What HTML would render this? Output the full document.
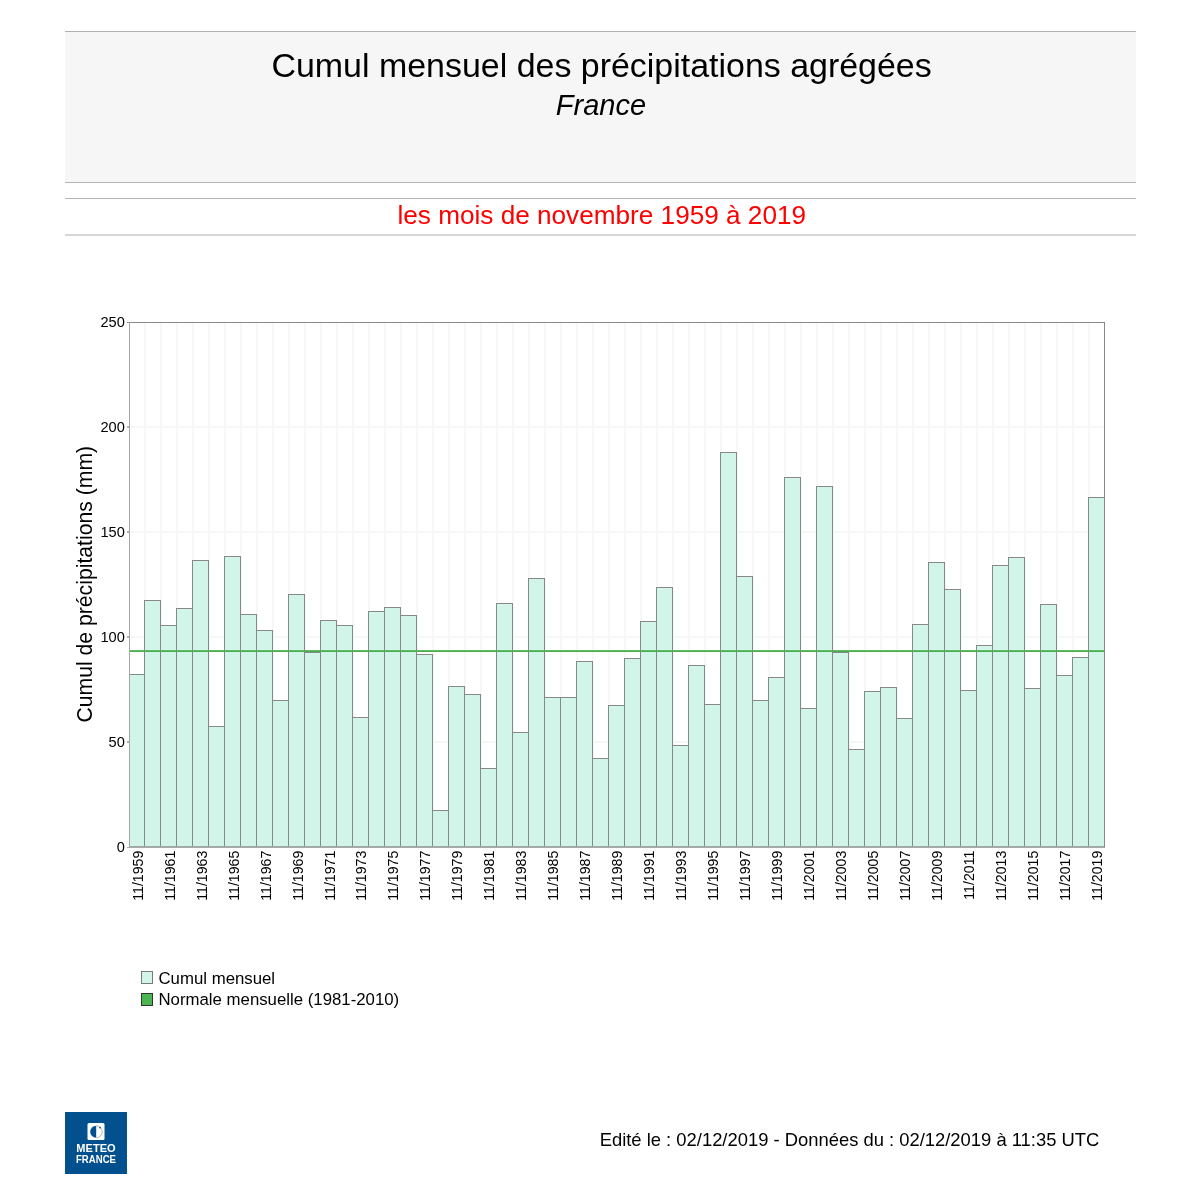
<!DOCTYPE html>
<html><head><meta charset="utf-8"><style>
html,body{margin:0;padding:0;background:#fff;}
body{width:1200px;height:1200px;overflow:hidden;position:relative;font-family:"Liberation Sans", sans-serif;}
svg{position:absolute;left:0;top:0;will-change:transform;}
svg text{font-family:"Liberation Sans", sans-serif;}
</style></head><body>
<svg width="1200" height="1200" viewBox="0 0 1200 1200">
<rect x="0" y="0" width="1200" height="1200" fill="#fff"/>
<g shape-rendering="crispEdges">
<rect x="65" y="31" width="1071" height="151" fill="#f6f6f6"/>
<rect x="65" y="31" width="1071" height="1" fill="#b0b0b0"/>
<rect x="65" y="182" width="1071" height="1" fill="#b4b4b4"/>
<rect x="65" y="198" width="1071" height="1" fill="#b4b4b4"/>
<rect x="65" y="234" width="1071" height="2" fill="#d6d6d6"/>
</g>
<text x="601.6" y="77.3" font-size="33.95" text-anchor="middle" fill="#000">Cumul mensuel des précipitations agrégées</text>
<text x="601.0" y="115.0" font-size="29" font-style="italic" text-anchor="middle" fill="#000">France</text>
<text x="601.75" y="224.3" font-size="26.16" text-anchor="middle" fill="#ff0000">les mois de novembre 1959 à 2019</text>
<g shape-rendering="crispEdges">
<rect x="129" y="741" width="975.03" height="2" fill="#f7f7f7"/>
<rect x="129" y="636" width="975.03" height="2" fill="#f7f7f7"/>
<rect x="129" y="531" width="975.03" height="2" fill="#f7f7f7"/>
<rect x="129" y="426" width="975.03" height="2" fill="#f7f7f7"/>
<rect x="144" y="322" width="2" height="525" fill="#f7f7f7"/>
<rect x="160" y="322" width="2" height="525" fill="#f7f7f7"/>
<rect x="176" y="322" width="2" height="525" fill="#f7f7f7"/>
<rect x="192" y="322" width="2" height="525" fill="#f7f7f7"/>
<rect x="208" y="322" width="2" height="525" fill="#f7f7f7"/>
<rect x="224" y="322" width="2" height="525" fill="#f7f7f7"/>
<rect x="240" y="322" width="2" height="525" fill="#f7f7f7"/>
<rect x="256" y="322" width="2" height="525" fill="#f7f7f7"/>
<rect x="272" y="322" width="2" height="525" fill="#f7f7f7"/>
<rect x="288" y="322" width="2" height="525" fill="#f7f7f7"/>
<rect x="304" y="322" width="2" height="525" fill="#f7f7f7"/>
<rect x="320" y="322" width="2" height="525" fill="#f7f7f7"/>
<rect x="336" y="322" width="2" height="525" fill="#f7f7f7"/>
<rect x="352" y="322" width="2" height="525" fill="#f7f7f7"/>
<rect x="368" y="322" width="2" height="525" fill="#f7f7f7"/>
<rect x="384" y="322" width="2" height="525" fill="#f7f7f7"/>
<rect x="400" y="322" width="2" height="525" fill="#f7f7f7"/>
<rect x="416" y="322" width="2" height="525" fill="#f7f7f7"/>
<rect x="432" y="322" width="2" height="525" fill="#f7f7f7"/>
<rect x="448" y="322" width="2" height="525" fill="#f7f7f7"/>
<rect x="464" y="322" width="2" height="525" fill="#f7f7f7"/>
<rect x="480" y="322" width="2" height="525" fill="#f7f7f7"/>
<rect x="496" y="322" width="2" height="525" fill="#f7f7f7"/>
<rect x="512" y="322" width="2" height="525" fill="#f7f7f7"/>
<rect x="528" y="322" width="2" height="525" fill="#f7f7f7"/>
<rect x="544" y="322" width="2" height="525" fill="#f7f7f7"/>
<rect x="560" y="322" width="2" height="525" fill="#f7f7f7"/>
<rect x="576" y="322" width="2" height="525" fill="#f7f7f7"/>
<rect x="592" y="322" width="2" height="525" fill="#f7f7f7"/>
<rect x="608" y="322" width="2" height="525" fill="#f7f7f7"/>
<rect x="624" y="322" width="2" height="525" fill="#f7f7f7"/>
<rect x="640" y="322" width="2" height="525" fill="#f7f7f7"/>
<rect x="656" y="322" width="2" height="525" fill="#f7f7f7"/>
<rect x="672" y="322" width="2" height="525" fill="#f7f7f7"/>
<rect x="688" y="322" width="2" height="525" fill="#f7f7f7"/>
<rect x="704" y="322" width="2" height="525" fill="#f7f7f7"/>
<rect x="720" y="322" width="2" height="525" fill="#f7f7f7"/>
<rect x="736" y="322" width="2" height="525" fill="#f7f7f7"/>
<rect x="752" y="322" width="2" height="525" fill="#f7f7f7"/>
<rect x="768" y="322" width="2" height="525" fill="#f7f7f7"/>
<rect x="784" y="322" width="2" height="525" fill="#f7f7f7"/>
<rect x="800" y="322" width="2" height="525" fill="#f7f7f7"/>
<rect x="816" y="322" width="2" height="525" fill="#f7f7f7"/>
<rect x="832" y="322" width="2" height="525" fill="#f7f7f7"/>
<rect x="848" y="322" width="2" height="525" fill="#f7f7f7"/>
<rect x="864" y="322" width="2" height="525" fill="#f7f7f7"/>
<rect x="880" y="322" width="2" height="525" fill="#f7f7f7"/>
<rect x="896" y="322" width="2" height="525" fill="#f7f7f7"/>
<rect x="912" y="322" width="2" height="525" fill="#f7f7f7"/>
<rect x="928" y="322" width="2" height="525" fill="#f7f7f7"/>
<rect x="944" y="322" width="2" height="525" fill="#f7f7f7"/>
<rect x="960" y="322" width="2" height="525" fill="#f7f7f7"/>
<rect x="976" y="322" width="2" height="525" fill="#f7f7f7"/>
<rect x="992" y="322" width="2" height="525" fill="#f7f7f7"/>
<rect x="1008" y="322" width="2" height="525" fill="#f7f7f7"/>
<rect x="1024" y="322" width="2" height="525" fill="#f7f7f7"/>
<rect x="1040" y="322" width="2" height="525" fill="#f7f7f7"/>
<rect x="1056" y="322" width="2" height="525" fill="#f7f7f7"/>
<rect x="1072" y="322" width="2" height="525" fill="#f7f7f7"/>
<rect x="1088" y="322" width="2" height="525" fill="#f7f7f7"/>
<rect x="129" y="674" width="15" height="173" fill="#d2f5ea"/>
<rect x="144" y="600" width="16" height="247" fill="#d2f5ea"/>
<rect x="160" y="625" width="16" height="222" fill="#d2f5ea"/>
<rect x="176" y="608" width="16" height="239" fill="#d2f5ea"/>
<rect x="192" y="560" width="16" height="287" fill="#d2f5ea"/>
<rect x="208" y="726" width="16" height="121" fill="#d2f5ea"/>
<rect x="224" y="556" width="16" height="291" fill="#d2f5ea"/>
<rect x="240" y="614" width="16" height="233" fill="#d2f5ea"/>
<rect x="256" y="630" width="16" height="217" fill="#d2f5ea"/>
<rect x="272" y="700" width="16" height="147" fill="#d2f5ea"/>
<rect x="288" y="594" width="16" height="253" fill="#d2f5ea"/>
<rect x="304" y="652" width="16" height="195" fill="#d2f5ea"/>
<rect x="320" y="620" width="16" height="227" fill="#d2f5ea"/>
<rect x="336" y="625" width="16" height="222" fill="#d2f5ea"/>
<rect x="352" y="717" width="16" height="130" fill="#d2f5ea"/>
<rect x="368" y="611" width="16" height="236" fill="#d2f5ea"/>
<rect x="384" y="607" width="16" height="240" fill="#d2f5ea"/>
<rect x="400" y="615" width="16" height="232" fill="#d2f5ea"/>
<rect x="416" y="654" width="16" height="193" fill="#d2f5ea"/>
<rect x="432" y="810" width="16" height="37" fill="#d2f5ea"/>
<rect x="448" y="686" width="16" height="161" fill="#d2f5ea"/>
<rect x="464" y="694" width="16" height="153" fill="#d2f5ea"/>
<rect x="480" y="768" width="16" height="79" fill="#d2f5ea"/>
<rect x="496" y="603" width="16" height="244" fill="#d2f5ea"/>
<rect x="512" y="732" width="16" height="115" fill="#d2f5ea"/>
<rect x="528" y="578" width="16" height="269" fill="#d2f5ea"/>
<rect x="544" y="697" width="16" height="150" fill="#d2f5ea"/>
<rect x="560" y="697" width="16" height="150" fill="#d2f5ea"/>
<rect x="576" y="661" width="16" height="186" fill="#d2f5ea"/>
<rect x="592" y="758" width="16" height="89" fill="#d2f5ea"/>
<rect x="608" y="705" width="16" height="142" fill="#d2f5ea"/>
<rect x="624" y="658" width="16" height="189" fill="#d2f5ea"/>
<rect x="640" y="621" width="16" height="226" fill="#d2f5ea"/>
<rect x="656" y="587" width="16" height="260" fill="#d2f5ea"/>
<rect x="672" y="745" width="16" height="102" fill="#d2f5ea"/>
<rect x="688" y="665" width="16" height="182" fill="#d2f5ea"/>
<rect x="704" y="704" width="16" height="143" fill="#d2f5ea"/>
<rect x="720" y="452" width="16" height="395" fill="#d2f5ea"/>
<rect x="736" y="576" width="16" height="271" fill="#d2f5ea"/>
<rect x="752" y="700" width="16" height="147" fill="#d2f5ea"/>
<rect x="768" y="677" width="16" height="170" fill="#d2f5ea"/>
<rect x="784" y="477" width="16" height="370" fill="#d2f5ea"/>
<rect x="800" y="708" width="16" height="139" fill="#d2f5ea"/>
<rect x="816" y="486" width="16" height="361" fill="#d2f5ea"/>
<rect x="832" y="652" width="16" height="195" fill="#d2f5ea"/>
<rect x="848" y="749" width="16" height="98" fill="#d2f5ea"/>
<rect x="864" y="691" width="16" height="156" fill="#d2f5ea"/>
<rect x="880" y="687" width="16" height="160" fill="#d2f5ea"/>
<rect x="896" y="718" width="16" height="129" fill="#d2f5ea"/>
<rect x="912" y="624" width="16" height="223" fill="#d2f5ea"/>
<rect x="928" y="562" width="16" height="285" fill="#d2f5ea"/>
<rect x="944" y="589" width="16" height="258" fill="#d2f5ea"/>
<rect x="960" y="690" width="16" height="157" fill="#d2f5ea"/>
<rect x="976" y="645" width="16" height="202" fill="#d2f5ea"/>
<rect x="992" y="565" width="16" height="282" fill="#d2f5ea"/>
<rect x="1008" y="557" width="16" height="290" fill="#d2f5ea"/>
<rect x="1024" y="688" width="16" height="159" fill="#d2f5ea"/>
<rect x="1040" y="604" width="16" height="243" fill="#d2f5ea"/>
<rect x="1056" y="675" width="16" height="172" fill="#d2f5ea"/>
<rect x="1072" y="657" width="16" height="190" fill="#d2f5ea"/>
<rect x="1088" y="497" width="16" height="350" fill="#d2f5ea"/>
<rect x="129" y="650" width="975.03" height="1" fill="#62bc66"/>
<rect x="129" y="651" width="975.03" height="1" fill="#45b04a"/>
<rect x="129" y="674" width="1" height="173" fill="#7f8d8a"/>
<rect x="144" y="674" width="1" height="173" fill="#7f8d8a"/>
<rect x="129" y="674" width="16" height="1" fill="#888888"/>
<rect x="144" y="600" width="1" height="247" fill="#7f8d8a"/>
<rect x="160" y="600" width="1" height="247" fill="#7f8d8a"/>
<rect x="144" y="600" width="17" height="1" fill="#888888"/>
<rect x="160" y="625" width="1" height="222" fill="#7f8d8a"/>
<rect x="176" y="625" width="1" height="222" fill="#7f8d8a"/>
<rect x="160" y="625" width="17" height="1" fill="#888888"/>
<rect x="176" y="608" width="1" height="239" fill="#7f8d8a"/>
<rect x="192" y="608" width="1" height="239" fill="#7f8d8a"/>
<rect x="176" y="608" width="17" height="1" fill="#888888"/>
<rect x="192" y="560" width="1" height="287" fill="#7f8d8a"/>
<rect x="208" y="560" width="1" height="287" fill="#7f8d8a"/>
<rect x="192" y="560" width="17" height="1" fill="#888888"/>
<rect x="208" y="726" width="1" height="121" fill="#7f8d8a"/>
<rect x="224" y="726" width="1" height="121" fill="#7f8d8a"/>
<rect x="208" y="726" width="17" height="1" fill="#888888"/>
<rect x="224" y="556" width="1" height="291" fill="#7f8d8a"/>
<rect x="240" y="556" width="1" height="291" fill="#7f8d8a"/>
<rect x="224" y="556" width="17" height="1" fill="#888888"/>
<rect x="240" y="614" width="1" height="233" fill="#7f8d8a"/>
<rect x="256" y="614" width="1" height="233" fill="#7f8d8a"/>
<rect x="240" y="614" width="17" height="1" fill="#888888"/>
<rect x="256" y="630" width="1" height="217" fill="#7f8d8a"/>
<rect x="272" y="630" width="1" height="217" fill="#7f8d8a"/>
<rect x="256" y="630" width="17" height="1" fill="#888888"/>
<rect x="272" y="700" width="1" height="147" fill="#7f8d8a"/>
<rect x="288" y="700" width="1" height="147" fill="#7f8d8a"/>
<rect x="272" y="700" width="17" height="1" fill="#888888"/>
<rect x="288" y="594" width="1" height="253" fill="#7f8d8a"/>
<rect x="304" y="594" width="1" height="253" fill="#7f8d8a"/>
<rect x="288" y="594" width="17" height="1" fill="#888888"/>
<rect x="304" y="652" width="1" height="195" fill="#7f8d8a"/>
<rect x="320" y="652" width="1" height="195" fill="#7f8d8a"/>
<rect x="304" y="652" width="17" height="1" fill="#888888"/>
<rect x="320" y="620" width="1" height="227" fill="#7f8d8a"/>
<rect x="336" y="620" width="1" height="227" fill="#7f8d8a"/>
<rect x="320" y="620" width="17" height="1" fill="#888888"/>
<rect x="336" y="625" width="1" height="222" fill="#7f8d8a"/>
<rect x="352" y="625" width="1" height="222" fill="#7f8d8a"/>
<rect x="336" y="625" width="17" height="1" fill="#888888"/>
<rect x="352" y="717" width="1" height="130" fill="#7f8d8a"/>
<rect x="368" y="717" width="1" height="130" fill="#7f8d8a"/>
<rect x="352" y="717" width="17" height="1" fill="#888888"/>
<rect x="368" y="611" width="1" height="236" fill="#7f8d8a"/>
<rect x="384" y="611" width="1" height="236" fill="#7f8d8a"/>
<rect x="368" y="611" width="17" height="1" fill="#888888"/>
<rect x="384" y="607" width="1" height="240" fill="#7f8d8a"/>
<rect x="400" y="607" width="1" height="240" fill="#7f8d8a"/>
<rect x="384" y="607" width="17" height="1" fill="#888888"/>
<rect x="400" y="615" width="1" height="232" fill="#7f8d8a"/>
<rect x="416" y="615" width="1" height="232" fill="#7f8d8a"/>
<rect x="400" y="615" width="17" height="1" fill="#888888"/>
<rect x="416" y="654" width="1" height="193" fill="#7f8d8a"/>
<rect x="432" y="654" width="1" height="193" fill="#7f8d8a"/>
<rect x="416" y="654" width="17" height="1" fill="#888888"/>
<rect x="432" y="810" width="1" height="37" fill="#7f8d8a"/>
<rect x="448" y="810" width="1" height="37" fill="#7f8d8a"/>
<rect x="432" y="810" width="17" height="1" fill="#888888"/>
<rect x="448" y="686" width="1" height="161" fill="#7f8d8a"/>
<rect x="464" y="686" width="1" height="161" fill="#7f8d8a"/>
<rect x="448" y="686" width="17" height="1" fill="#888888"/>
<rect x="464" y="694" width="1" height="153" fill="#7f8d8a"/>
<rect x="480" y="694" width="1" height="153" fill="#7f8d8a"/>
<rect x="464" y="694" width="17" height="1" fill="#888888"/>
<rect x="480" y="768" width="1" height="79" fill="#7f8d8a"/>
<rect x="496" y="768" width="1" height="79" fill="#7f8d8a"/>
<rect x="480" y="768" width="17" height="1" fill="#888888"/>
<rect x="496" y="603" width="1" height="244" fill="#7f8d8a"/>
<rect x="512" y="603" width="1" height="244" fill="#7f8d8a"/>
<rect x="496" y="603" width="17" height="1" fill="#888888"/>
<rect x="512" y="732" width="1" height="115" fill="#7f8d8a"/>
<rect x="528" y="732" width="1" height="115" fill="#7f8d8a"/>
<rect x="512" y="732" width="17" height="1" fill="#888888"/>
<rect x="528" y="578" width="1" height="269" fill="#7f8d8a"/>
<rect x="544" y="578" width="1" height="269" fill="#7f8d8a"/>
<rect x="528" y="578" width="17" height="1" fill="#888888"/>
<rect x="544" y="697" width="1" height="150" fill="#7f8d8a"/>
<rect x="560" y="697" width="1" height="150" fill="#7f8d8a"/>
<rect x="544" y="697" width="17" height="1" fill="#888888"/>
<rect x="560" y="697" width="1" height="150" fill="#7f8d8a"/>
<rect x="576" y="697" width="1" height="150" fill="#7f8d8a"/>
<rect x="560" y="697" width="17" height="1" fill="#888888"/>
<rect x="576" y="661" width="1" height="186" fill="#7f8d8a"/>
<rect x="592" y="661" width="1" height="186" fill="#7f8d8a"/>
<rect x="576" y="661" width="17" height="1" fill="#888888"/>
<rect x="592" y="758" width="1" height="89" fill="#7f8d8a"/>
<rect x="608" y="758" width="1" height="89" fill="#7f8d8a"/>
<rect x="592" y="758" width="17" height="1" fill="#888888"/>
<rect x="608" y="705" width="1" height="142" fill="#7f8d8a"/>
<rect x="624" y="705" width="1" height="142" fill="#7f8d8a"/>
<rect x="608" y="705" width="17" height="1" fill="#888888"/>
<rect x="624" y="658" width="1" height="189" fill="#7f8d8a"/>
<rect x="640" y="658" width="1" height="189" fill="#7f8d8a"/>
<rect x="624" y="658" width="17" height="1" fill="#888888"/>
<rect x="640" y="621" width="1" height="226" fill="#7f8d8a"/>
<rect x="656" y="621" width="1" height="226" fill="#7f8d8a"/>
<rect x="640" y="621" width="17" height="1" fill="#888888"/>
<rect x="656" y="587" width="1" height="260" fill="#7f8d8a"/>
<rect x="672" y="587" width="1" height="260" fill="#7f8d8a"/>
<rect x="656" y="587" width="17" height="1" fill="#888888"/>
<rect x="672" y="745" width="1" height="102" fill="#7f8d8a"/>
<rect x="688" y="745" width="1" height="102" fill="#7f8d8a"/>
<rect x="672" y="745" width="17" height="1" fill="#888888"/>
<rect x="688" y="665" width="1" height="182" fill="#7f8d8a"/>
<rect x="704" y="665" width="1" height="182" fill="#7f8d8a"/>
<rect x="688" y="665" width="17" height="1" fill="#888888"/>
<rect x="704" y="704" width="1" height="143" fill="#7f8d8a"/>
<rect x="720" y="704" width="1" height="143" fill="#7f8d8a"/>
<rect x="704" y="704" width="17" height="1" fill="#888888"/>
<rect x="720" y="452" width="1" height="395" fill="#7f8d8a"/>
<rect x="736" y="452" width="1" height="395" fill="#7f8d8a"/>
<rect x="720" y="452" width="17" height="1" fill="#888888"/>
<rect x="736" y="576" width="1" height="271" fill="#7f8d8a"/>
<rect x="752" y="576" width="1" height="271" fill="#7f8d8a"/>
<rect x="736" y="576" width="17" height="1" fill="#888888"/>
<rect x="752" y="700" width="1" height="147" fill="#7f8d8a"/>
<rect x="768" y="700" width="1" height="147" fill="#7f8d8a"/>
<rect x="752" y="700" width="17" height="1" fill="#888888"/>
<rect x="768" y="677" width="1" height="170" fill="#7f8d8a"/>
<rect x="784" y="677" width="1" height="170" fill="#7f8d8a"/>
<rect x="768" y="677" width="17" height="1" fill="#888888"/>
<rect x="784" y="477" width="1" height="370" fill="#7f8d8a"/>
<rect x="800" y="477" width="1" height="370" fill="#7f8d8a"/>
<rect x="784" y="477" width="17" height="1" fill="#888888"/>
<rect x="800" y="708" width="1" height="139" fill="#7f8d8a"/>
<rect x="816" y="708" width="1" height="139" fill="#7f8d8a"/>
<rect x="800" y="708" width="17" height="1" fill="#888888"/>
<rect x="816" y="486" width="1" height="361" fill="#7f8d8a"/>
<rect x="832" y="486" width="1" height="361" fill="#7f8d8a"/>
<rect x="816" y="486" width="17" height="1" fill="#888888"/>
<rect x="832" y="652" width="1" height="195" fill="#7f8d8a"/>
<rect x="848" y="652" width="1" height="195" fill="#7f8d8a"/>
<rect x="832" y="652" width="17" height="1" fill="#888888"/>
<rect x="848" y="749" width="1" height="98" fill="#7f8d8a"/>
<rect x="864" y="749" width="1" height="98" fill="#7f8d8a"/>
<rect x="848" y="749" width="17" height="1" fill="#888888"/>
<rect x="864" y="691" width="1" height="156" fill="#7f8d8a"/>
<rect x="880" y="691" width="1" height="156" fill="#7f8d8a"/>
<rect x="864" y="691" width="17" height="1" fill="#888888"/>
<rect x="880" y="687" width="1" height="160" fill="#7f8d8a"/>
<rect x="896" y="687" width="1" height="160" fill="#7f8d8a"/>
<rect x="880" y="687" width="17" height="1" fill="#888888"/>
<rect x="896" y="718" width="1" height="129" fill="#7f8d8a"/>
<rect x="912" y="718" width="1" height="129" fill="#7f8d8a"/>
<rect x="896" y="718" width="17" height="1" fill="#888888"/>
<rect x="912" y="624" width="1" height="223" fill="#7f8d8a"/>
<rect x="928" y="624" width="1" height="223" fill="#7f8d8a"/>
<rect x="912" y="624" width="17" height="1" fill="#888888"/>
<rect x="928" y="562" width="1" height="285" fill="#7f8d8a"/>
<rect x="944" y="562" width="1" height="285" fill="#7f8d8a"/>
<rect x="928" y="562" width="17" height="1" fill="#888888"/>
<rect x="944" y="589" width="1" height="258" fill="#7f8d8a"/>
<rect x="960" y="589" width="1" height="258" fill="#7f8d8a"/>
<rect x="944" y="589" width="17" height="1" fill="#888888"/>
<rect x="960" y="690" width="1" height="157" fill="#7f8d8a"/>
<rect x="976" y="690" width="1" height="157" fill="#7f8d8a"/>
<rect x="960" y="690" width="17" height="1" fill="#888888"/>
<rect x="976" y="645" width="1" height="202" fill="#7f8d8a"/>
<rect x="992" y="645" width="1" height="202" fill="#7f8d8a"/>
<rect x="976" y="645" width="17" height="1" fill="#888888"/>
<rect x="992" y="565" width="1" height="282" fill="#7f8d8a"/>
<rect x="1008" y="565" width="1" height="282" fill="#7f8d8a"/>
<rect x="992" y="565" width="17" height="1" fill="#888888"/>
<rect x="1008" y="557" width="1" height="290" fill="#7f8d8a"/>
<rect x="1024" y="557" width="1" height="290" fill="#7f8d8a"/>
<rect x="1008" y="557" width="17" height="1" fill="#888888"/>
<rect x="1024" y="688" width="1" height="159" fill="#7f8d8a"/>
<rect x="1040" y="688" width="1" height="159" fill="#7f8d8a"/>
<rect x="1024" y="688" width="17" height="1" fill="#888888"/>
<rect x="1040" y="604" width="1" height="243" fill="#7f8d8a"/>
<rect x="1056" y="604" width="1" height="243" fill="#7f8d8a"/>
<rect x="1040" y="604" width="17" height="1" fill="#888888"/>
<rect x="1056" y="675" width="1" height="172" fill="#7f8d8a"/>
<rect x="1072" y="675" width="1" height="172" fill="#7f8d8a"/>
<rect x="1056" y="675" width="17" height="1" fill="#888888"/>
<rect x="1072" y="657" width="1" height="190" fill="#7f8d8a"/>
<rect x="1088" y="657" width="1" height="190" fill="#7f8d8a"/>
<rect x="1072" y="657" width="17" height="1" fill="#888888"/>
<rect x="1088" y="497" width="1" height="350" fill="#7f8d8a"/>
<rect x="1104" y="497" width="1" height="350" fill="#7f8d8a"/>
<rect x="1088" y="497" width="17" height="1" fill="#888888"/>
<rect x="129" y="846" width="975.03" height="1" fill="#9aaaa5"/>
<rect x="127" y="322" width="978.03" height="1" fill="#888888"/>
<rect x="129" y="322" width="1" height="525" fill="#9fa7a4"/>
<rect x="1104" y="322" width="1" height="525" fill="#888888"/>
<rect x="127" y="847" width="978" height="1" fill="#a9a9a9"/>
<rect x="127" y="741" width="2" height="2" fill="#b0b0b0"/>
<rect x="127" y="636" width="2" height="2" fill="#b0b0b0"/>
<rect x="127" y="531" width="2" height="2" fill="#b0b0b0"/>
<rect x="127" y="426" width="2" height="2" fill="#b0b0b0"/>
</g>
<text x="124.8" y="852.20" font-size="14.6" text-anchor="end" fill="#000">0</text>
<text x="124.8" y="747.20" font-size="14.6" text-anchor="end" fill="#000">50</text>
<text x="124.8" y="642.20" font-size="14.6" text-anchor="end" fill="#000">100</text>
<text x="124.8" y="537.20" font-size="14.6" text-anchor="end" fill="#000">150</text>
<text x="124.8" y="432.20" font-size="14.6" text-anchor="end" fill="#000">200</text>
<text x="124.8" y="327.20" font-size="14.6" text-anchor="end" fill="#000">250</text>
<text transform="translate(91.5,584.25) rotate(-90)" font-size="21.2" text-anchor="middle" fill="#000">Cumul de précipitations (mm)</text>
<text transform="translate(142.69,850.6) rotate(-90)" font-size="14.2" text-anchor="end" fill="#000">11/1959</text>
<text transform="translate(174.66,850.6) rotate(-90)" font-size="14.2" text-anchor="end" fill="#000">11/1961</text>
<text transform="translate(206.63,850.6) rotate(-90)" font-size="14.2" text-anchor="end" fill="#000">11/1963</text>
<text transform="translate(238.60,850.6) rotate(-90)" font-size="14.2" text-anchor="end" fill="#000">11/1965</text>
<text transform="translate(270.56,850.6) rotate(-90)" font-size="14.2" text-anchor="end" fill="#000">11/1967</text>
<text transform="translate(302.53,850.6) rotate(-90)" font-size="14.2" text-anchor="end" fill="#000">11/1969</text>
<text transform="translate(334.50,850.6) rotate(-90)" font-size="14.2" text-anchor="end" fill="#000">11/1971</text>
<text transform="translate(366.47,850.6) rotate(-90)" font-size="14.2" text-anchor="end" fill="#000">11/1973</text>
<text transform="translate(398.44,850.6) rotate(-90)" font-size="14.2" text-anchor="end" fill="#000">11/1975</text>
<text transform="translate(430.41,850.6) rotate(-90)" font-size="14.2" text-anchor="end" fill="#000">11/1977</text>
<text transform="translate(462.37,850.6) rotate(-90)" font-size="14.2" text-anchor="end" fill="#000">11/1979</text>
<text transform="translate(494.34,850.6) rotate(-90)" font-size="14.2" text-anchor="end" fill="#000">11/1981</text>
<text transform="translate(526.31,850.6) rotate(-90)" font-size="14.2" text-anchor="end" fill="#000">11/1983</text>
<text transform="translate(558.28,850.6) rotate(-90)" font-size="14.2" text-anchor="end" fill="#000">11/1985</text>
<text transform="translate(590.25,850.6) rotate(-90)" font-size="14.2" text-anchor="end" fill="#000">11/1987</text>
<text transform="translate(622.22,850.6) rotate(-90)" font-size="14.2" text-anchor="end" fill="#000">11/1989</text>
<text transform="translate(654.18,850.6) rotate(-90)" font-size="14.2" text-anchor="end" fill="#000">11/1991</text>
<text transform="translate(686.15,850.6) rotate(-90)" font-size="14.2" text-anchor="end" fill="#000">11/1993</text>
<text transform="translate(718.12,850.6) rotate(-90)" font-size="14.2" text-anchor="end" fill="#000">11/1995</text>
<text transform="translate(750.09,850.6) rotate(-90)" font-size="14.2" text-anchor="end" fill="#000">11/1997</text>
<text transform="translate(782.06,850.6) rotate(-90)" font-size="14.2" text-anchor="end" fill="#000">11/1999</text>
<text transform="translate(814.02,850.6) rotate(-90)" font-size="14.2" text-anchor="end" fill="#000">11/2001</text>
<text transform="translate(845.99,850.6) rotate(-90)" font-size="14.2" text-anchor="end" fill="#000">11/2003</text>
<text transform="translate(877.96,850.6) rotate(-90)" font-size="14.2" text-anchor="end" fill="#000">11/2005</text>
<text transform="translate(909.93,850.6) rotate(-90)" font-size="14.2" text-anchor="end" fill="#000">11/2007</text>
<text transform="translate(941.90,850.6) rotate(-90)" font-size="14.2" text-anchor="end" fill="#000">11/2009</text>
<text transform="translate(973.87,850.6) rotate(-90)" font-size="14.2" text-anchor="end" fill="#000">11/2011</text>
<text transform="translate(1005.83,850.6) rotate(-90)" font-size="14.2" text-anchor="end" fill="#000">11/2013</text>
<text transform="translate(1037.80,850.6) rotate(-90)" font-size="14.2" text-anchor="end" fill="#000">11/2015</text>
<text transform="translate(1069.77,850.6) rotate(-90)" font-size="14.2" text-anchor="end" fill="#000">11/2017</text>
<text transform="translate(1101.74,850.6) rotate(-90)" font-size="14.2" text-anchor="end" fill="#000">11/2019</text>
<rect x="141.5" y="971.5" width="11" height="12" fill="#d2f5ea" stroke="#7a7a7a" stroke-width="1"/>
<rect x="141.5" y="993.5" width="11" height="12" fill="#4cb54f" stroke="#333" stroke-width="1"/>
<text x="158.5" y="983.5" font-size="16.8" fill="#000">Cumul mensuel</text>
<text x="158.5" y="1005.3" font-size="16.8" fill="#000">Normale mensuelle (1981-2010)</text>
<rect x="65" y="1112" width="62" height="62" fill="#03508f" shape-rendering="crispEdges"/>
<rect x="87.5" y="1123" width="17" height="17" rx="1.5" fill="#fff"/>
<path d="M96.2,1125.8 A6,6 0 0 0 96.2,1137.8 Z" fill="#03508f"/>
<path d="M96.2,1125.8 A6,6 0 0 1 96.2,1137.8" fill="none" stroke="#9aa8a8" stroke-width="0.8"/>
<circle cx="100" cy="1127.6" r="0.9" fill="#03508f"/>
<text x="96" y="1152.2" font-size="10" font-weight="bold" text-anchor="middle" textLength="39.4" lengthAdjust="spacingAndGlyphs" fill="#fff">METEO</text>
<text x="96" y="1162.7" font-size="10" font-weight="bold" text-anchor="middle" textLength="40" lengthAdjust="spacingAndGlyphs" fill="#fff">FRANCE</text>
<text x="1099.3" y="1145.7" font-size="18.4" text-anchor="end" fill="#000">Edité le : 02/12/2019 - Données du : 02/12/2019 à 11:35 UTC</text>
</svg></body></html>
